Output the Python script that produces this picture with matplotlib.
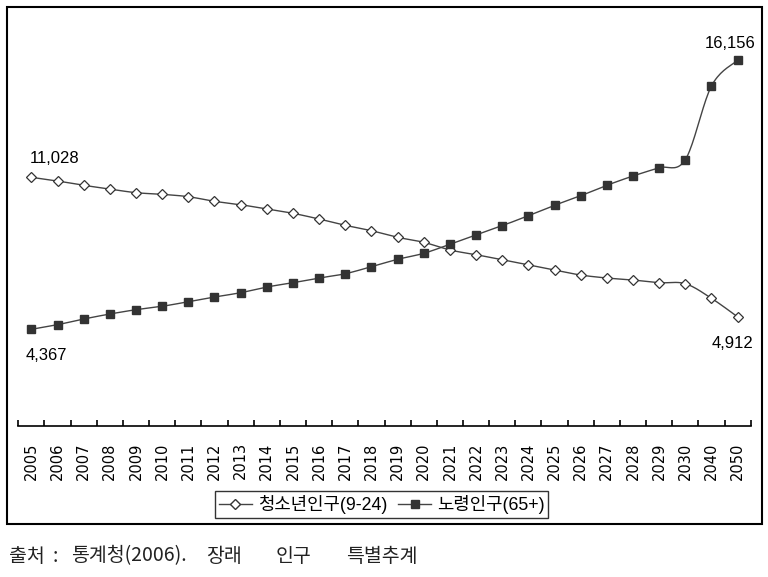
import matplotlib
matplotlib.use('Agg')
import matplotlib.pyplot as plt
from matplotlib.patches import Rectangle
from matplotlib.lines import Line2D
import numpy as np

plt.rcParams['font.family'] = ['Liberation Sans', 'Noto Sans CJK KR', 'DejaVu Sans']

years = ['2005', '2006', '2007', '2008', '2009', '2010', '2011', '2012', '2013',
         '2014', '2015', '2016', '2017', '2018', '2019', '2020', '2021', '2022',
         '2023', '2024', '2025', '2026', '2027', '2028', '2029', '2030', '2040', '2050']

youth = [11028, 10865, 10677, 10515, 10353, 10283, 10178, 9976, 9827, 9639,
         9450, 9200, 8924, 8688, 8398, 8179, 7842, 7636, 7417, 7185,
         6966, 6746, 6615, 6527, 6409, 6365, 5725, 4912]

elderly = [4367, 4569, 4818, 5037, 5226, 5375, 5576, 5782, 5971, 6221,
           6409, 6615, 6803, 7110, 7434, 7697, 8092, 8499, 8907, 9345,
           9801, 10221, 10677, 11085, 11448, 11799, 15029, 16156]

youth_name = '청소년인구(9-24)'
elderly_name = '노령인구(65+)'
# source note, written with wide gaps between the words
source_words = ['출처', ':', '통계청(2006).', '장래', '인구', '특별추계']
source_x = [9, 53, 71, 206, 276, 346]


def smooth(xs, ys, n=20):
    # excel style smoothed line (cubic bezier, catmull-rom control points)
    xs = np.asarray(xs, float)
    ys = np.asarray(ys, float)
    px = np.concatenate([[xs[0]], xs, [xs[-1]]])
    py = np.concatenate([[ys[0]], ys, [ys[-1]]])
    outx, outy = [], []
    t = np.linspace(0, 1, n)
    for i in range(1, len(px) - 2):
        p0 = np.array([px[i], py[i]])
        p3 = np.array([px[i + 1], py[i + 1]])
        c1 = p0 + (np.array([px[i + 1], py[i + 1]]) - np.array([px[i - 1], py[i - 1]])) / 6
        c2 = p3 - (np.array([px[i + 2], py[i + 2]]) - np.array([px[i], py[i]])) / 6
        b = ((1 - t) ** 3)[:, None] * p0 + (3 * (1 - t) ** 2 * t)[:, None] * c1 \
            + (3 * (1 - t) * t ** 2)[:, None] * c2 + (t ** 3)[:, None] * p3
        outx.extend(b[:, 0])
        outy.extend(b[:, 1])
    return outx, outy


fig = plt.figure(figsize=(7.68, 5.77), dpi=100)
ax = fig.add_axes([18.3 / 768, 151.3 / 577, 732.4 / 768, 405.7 / 577])

x = np.arange(len(years))
line_col = '#444444'

sx, sy = smooth(x, youth)
ax.plot(sx, sy, color=line_col, lw=1.0, zorder=2)
ax.plot(x, youth, ls='none', marker='D', ms=4.8, mfc='white', mec='#333333',
        mew=0.9, zorder=3)

sx, sy = smooth(x, elderly)
ax.plot(sx, sy, color=line_col, lw=1.0, zorder=2)
ax.plot(x, elderly, ls='none', marker='s', ms=5.6, mfc='#333333', mec='#333333',
        zorder=3)

ax.set_xlim(-0.5, len(years) - 0.5)
ax.set_ylim(143, 17921)

for s in ['top', 'left', 'right']:
    ax.spines[s].set_visible(False)
ax.spines['bottom'].set_linewidth(1.2)
ax.set_yticks([])
ax.set_xticks(x)
ax.set_xticklabels(years, rotation=90, fontsize=10.5, family='DejaVu Sans')
ax.tick_params(axis='x', which='major', length=0, pad=12)
ax.set_xticks(np.arange(-0.5, len(years)), minor=True)
ax.tick_params(axis='x', which='minor', direction='in', length=4, width=1.2)

# data labels at both ends
lab = dict(fontsize=12, color='black', textcoords='offset points')
ax.annotate('11,028', (x[0], youth[0]), xytext=(-1, 13.5), ha='left', va='center', **lab)
ax.annotate('4,367', (x[0], elderly[0]), xytext=(-4, -18.5), ha='left', va='center', **lab)
ax.annotate('16,156', (x[-1], elderly[-1]), xytext=(13, 12), ha='right', va='center', **lab)
ax.annotate('4,912', (x[-1], youth[-1]), xytext=(11.5, -19.5), ha='right', va='center', **lab)

handles = [
    Line2D([], [], color=line_col, lw=1.0, marker='D', ms=4.8, mfc='white', mec='#333333'),
    Line2D([], [], color=line_col, lw=1.0, marker='s', ms=5.6, mfc='#333333', mec='#333333'),
]
leg = fig.legend(handles, [youth_name, elderly_name], loc='center',
                 bbox_to_anchor=(381.5 / 768, 72.5 / 577), ncol=2, fontsize=12.8,
                 frameon=True, fancybox=False, edgecolor='black', handlelength=1.9,
                 handletextpad=0.3, columnspacing=0.6, borderpad=0.2)
leg.get_frame().set_linewidth(1.0)

fig.patches.append(Rectangle((7 / 768, 53 / 577), 755 / 768, 517 / 577,
                             transform=fig.transFigure, fill=False,
                             edgecolor='black', lw=1.5))

for word, wx in zip(source_words, source_x):
    fig.text(wx / 768, 21 / 577, word, fontsize=14, color='#222222',
             family=['Noto Sans CJK KR', 'DejaVu Sans'], va='center', ha='left')

fig.savefig('out.png', dpi=100)
